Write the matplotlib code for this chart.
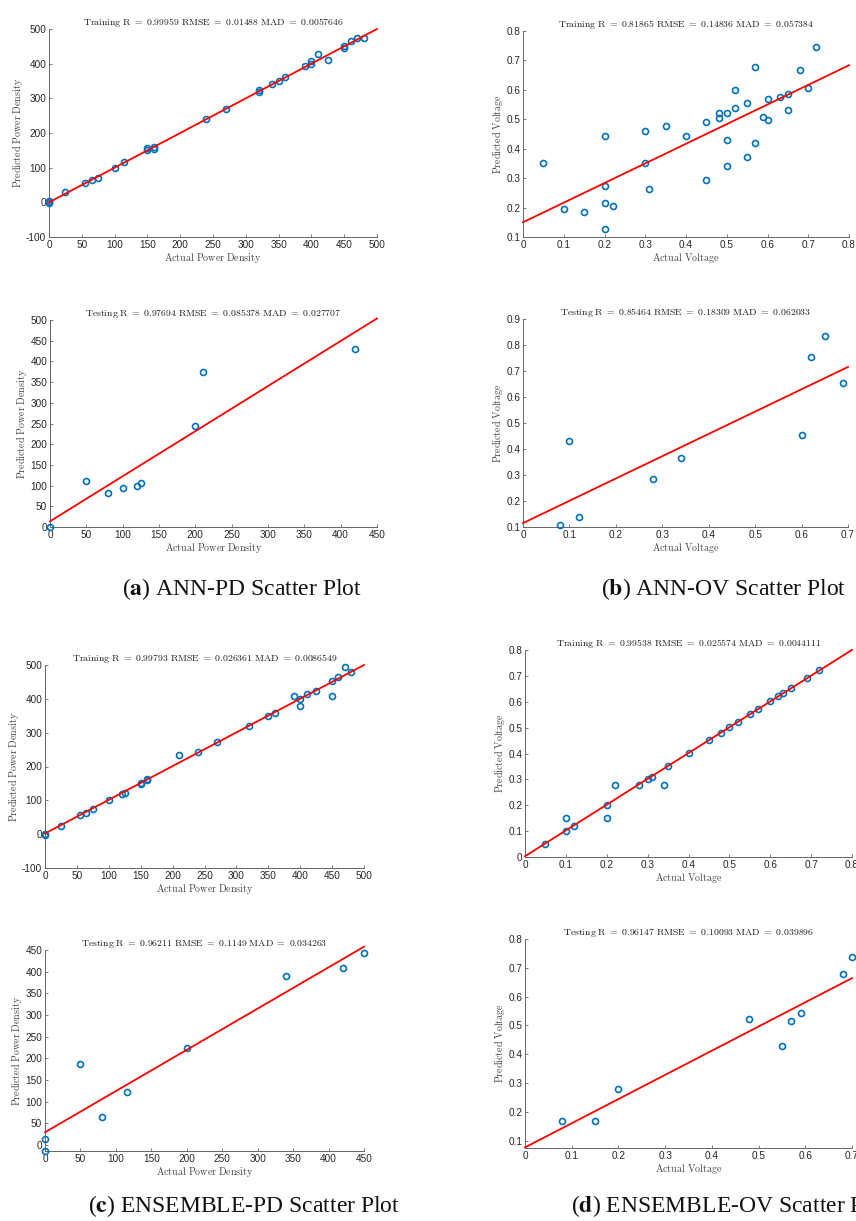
import matplotlib
matplotlib.use('Agg')
import matplotlib.pyplot as plt
from matplotlib.ticker import FuncFormatter
import numpy as np

plt.rcParams['axes.unicode_minus'] = False

# ANN - power density, training
ann_pd_train_x = [0, 0, 0, 25, 55, 65, 75, 100, 115, 150, 150, 160, 160, 240, 270, 320, 320, 340, 350, 360,
                  390, 400, 400, 410, 425, 450, 450, 460, 470, 480]
ann_pd_train_y = [2, -3, 3, 29, 56, 64, 70, 99, 115, 158, 150, 159, 154, 240, 270, 324, 319, 341, 351, 361,
                  392, 407, 399, 429, 411, 450, 445, 466, 473, 473]
ann_pd_train_fit = (0.0, 1.0)
ann_pd_train_title = 'Training R = 0.99959 RMSE = 0.01488 MAD = 0.0057646'

# ANN - power density, testing
ann_pd_test_x = [0, 50, 80, 100, 120, 125, 200, 210, 420]
ann_pd_test_y = [1, 112, 81, 94, 100, 106, 243, 374, 430]
ann_pd_test_fit = (13.7, 1.089)
ann_pd_test_title = 'Testing R = 0.97694 RMSE = 0.085378 MAD = 0.027707'

# ANN - output voltage, training
ann_ov_train_x = [0.05, 0.10, 0.15, 0.20, 0.20, 0.20, 0.20, 0.22, 0.30, 0.30, 0.31, 0.35, 0.40, 0.45, 0.45,
                  0.48, 0.48, 0.50, 0.50, 0.50, 0.52, 0.52, 0.55, 0.55, 0.57, 0.57, 0.59, 0.60, 0.60, 0.63,
                  0.65, 0.65, 0.68, 0.70, 0.72]
ann_ov_train_y = [0.351, 0.195, 0.184, 0.444, 0.274, 0.216, 0.128, 0.207, 0.460, 0.352, 0.262, 0.476, 0.442,
                  0.492, 0.294, 0.520, 0.506, 0.523, 0.431, 0.340, 0.599, 0.539, 0.555, 0.373, 0.677, 0.418,
                  0.509, 0.570, 0.496, 0.575, 0.587, 0.530, 0.666, 0.608, 0.744]
ann_ov_train_fit = (0.150, 0.667)
ann_ov_train_title = 'Training R = 0.81865 RMSE = 0.14836 MAD = 0.057384'

# ANN - output voltage, testing
ann_ov_test_x = [0.08, 0.10, 0.12, 0.28, 0.34, 0.60, 0.62, 0.65, 0.69]
ann_ov_test_y = [0.106, 0.430, 0.140, 0.286, 0.365, 0.453, 0.755, 0.833, 0.653]
ann_ov_test_fit = (0.115, 0.858)
ann_ov_test_title = 'Testing R = 0.85464 RMSE = 0.18309 MAD = 0.062033'

# ENSEMBLE - power density, training
ens_pd_train_x = [0, 0, 25, 55, 65, 75, 100, 120, 125, 150, 150, 160, 160, 210, 240, 270, 320, 350, 360,
                  390, 400, 400, 410, 425, 450, 450, 460, 470, 480]
ens_pd_train_y = [0, -1, 25, 58, 64, 75, 100, 120, 121, 149, 151, 164, 160, 235, 243, 272, 320, 350, 358,
                  409, 400, 379, 414, 424, 454, 409, 464, 493, 478]
ens_pd_train_fit = (2.0, 0.996)
ens_pd_train_title = 'Training R = 0.99793 RMSE = 0.026361 MAD = 0.0086549'

# ENSEMBLE - power density, testing
ens_pd_test_x = [0, 0, 50, 80, 115, 200, 340, 420, 450]
ens_pd_test_y = [13, -14, 187, 64, 122, 223, 391, 409, 444]
ens_pd_test_fit = (29.2, 0.952)
ens_pd_test_title = 'Testing R = 0.96211 RMSE = 0.1149 MAD = 0.034263'

# ENSEMBLE - output voltage, training
ens_ov_train_x = [0.05, 0.10, 0.10, 0.12, 0.20, 0.20, 0.22, 0.28, 0.30, 0.31, 0.34, 0.35, 0.40, 0.45, 0.48,
                  0.50, 0.52, 0.55, 0.57, 0.60, 0.62, 0.63, 0.65, 0.69, 0.72]
ens_ov_train_y = [0.050, 0.150, 0.100, 0.120, 0.200, 0.150, 0.280, 0.280, 0.301, 0.311, 0.280, 0.351, 0.401,
                  0.451, 0.481, 0.502, 0.522, 0.552, 0.572, 0.602, 0.622, 0.632, 0.652, 0.693, 0.723]
ens_ov_train_fit = (0.003, 0.997)
ens_ov_train_title = 'Training R = 0.99538 RMSE = 0.025574 MAD = 0.0044111'

# ENSEMBLE - output voltage, testing
ens_ov_test_x = [0.08, 0.15, 0.20, 0.48, 0.55, 0.57, 0.59, 0.68, 0.70]
ens_ov_test_y = [0.167, 0.167, 0.281, 0.522, 0.428, 0.516, 0.542, 0.679, 0.737]
ens_ov_test_fit = (0.077, 0.839)
ens_ov_test_title = 'Testing R = 0.96147 RMSE = 0.10093 MAD = 0.039896'

captions = [('a', 'ANN-PD Scatter Plot'), ('b', 'ANN-OV Scatter Plot'),
            ('c', 'ENSEMBLE-PD Scatter Plot'), ('d', 'ENSEMBLE-OV Scatter Plot')]

W, H = 856, 1221
fig = plt.figure(figsize=(W / 100, H / 100), dpi=100)

blue = '#0072BD'
axcol = '#666666'
labcol = '#444444'


def panel(box, x, y, fit, title, xlab, ylab, xlim, ylim, xticks, yticks):
    l, r, t, b = box
    ax = fig.add_axes([l / W, 1 - b / H, (r - l) / W, (b - t) / H])
    ax.plot(x, y, 'o', ms=4.3, mfc='none', mec=blue, mew=1.2, clip_on=False, zorder=3)
    xs = np.array(xlim, dtype=float)
    ax.plot(xs, fit[0] + fit[1] * xs, color='red', lw=1.3, clip_on=False, zorder=4)
    ax.set_xlim(xlim)
    ax.set_ylim(ylim)
    ax.set_xticks(xticks)
    ax.set_yticks(yticks)
    fmt = FuncFormatter(lambda v, p: '%g' % round(v, 6))
    ax.xaxis.set_major_formatter(fmt)
    ax.yaxis.set_major_formatter(fmt)
    for s in ['top', 'right']:
        ax.spines[s].set_visible(False)
    for s in ['left', 'bottom']:
        ax.spines[s].set_color(axcol)
        ax.spines[s].set_linewidth(0.7)
    ax.tick_params(direction='in', length=2.5, width=0.6, color=axcol, labelcolor='#262626',
                   labelsize=7.2, pad=2)
    for lab in ax.get_xticklabels() + ax.get_yticklabels():
        lab.set_fontfamily('Liberation Sans')
    tt = r'$\mathrm{' + title.replace(' ', r'\ ') + '}$'
    ax.set_title(tt, fontsize=7.0, math_fontfamily='cm', color='#1a1a1a', pad=3)
    ax.set_xlabel(r'$\mathrm{' + xlab.replace(' ', r'\ ') + '}$', fontsize=7.2,
                  math_fontfamily='cm', color=labcol, labelpad=1)
    ax.set_ylabel(r'$\mathrm{' + ylab.replace(' ', r'\ ') + '}$', fontsize=7.2,
                  math_fontfamily='cm', color=labcol, labelpad=1)
    return ax


pd_lab = ('Actual Power Density', 'Predicted Power Density')
ov_lab = ('Actual Voltage', 'Predicted Voltage')

panel((49, 377, 29, 237), ann_pd_train_x, ann_pd_train_y, ann_pd_train_fit, ann_pd_train_title,
      *pd_lab, (0, 500), (-100, 500), np.arange(0, 501, 50), np.arange(-100, 501, 100))
panel((523, 849, 31, 237), ann_ov_train_x, ann_ov_train_y, ann_ov_train_fit, ann_ov_train_title,
      *ov_lab, (0, 0.8), (0.1, 0.8), np.arange(0, 0.81, 0.1), np.arange(0.1, 0.81, 0.1))
panel((50, 377, 320, 527), ann_pd_test_x, ann_pd_test_y, ann_pd_test_fit, ann_pd_test_title,
      *pd_lab, (0, 450), (0, 500), np.arange(0, 451, 50), np.arange(0, 501, 50))
panel((523, 848, 319, 527), ann_ov_test_x, ann_ov_test_y, ann_ov_test_fit, ann_ov_test_title,
      *ov_lab, (0, 0.7), (0.1, 0.9), np.arange(0, 0.71, 0.1), np.arange(0.1, 0.91, 0.1))
panel((45, 364, 665, 868), ens_pd_train_x, ens_pd_train_y, ens_pd_train_fit, ens_pd_train_title,
      *pd_lab, (0, 500), (-100, 500), np.arange(0, 501, 50), np.arange(-100, 501, 100))
panel((525, 852, 650, 857), ens_ov_train_x, ens_ov_train_y, ens_ov_train_fit, ens_ov_train_title,
      *ov_lab, (0, 0.8), (0, 0.8), np.arange(0, 0.81, 0.1), np.arange(0, 0.81, 0.1))
panel((45, 364, 950, 1151), ens_pd_test_x, ens_pd_test_y, ens_pd_test_fit, ens_pd_test_title,
      *pd_lab, (0, 450), (-14, 450), np.arange(0, 451, 50), np.arange(0, 451, 50))
panel((525, 852, 939, 1148), ens_ov_test_x, ens_ov_test_y, ens_ov_test_fit, ens_ov_test_title,
      *ov_lab, (0, 0.7), (0.075, 0.8), np.arange(0, 0.71, 0.1), np.arange(0.1, 0.81, 0.1))

cap_pos = [(242, 589), (724, 589), (244, 1206), (730, 1206)]
for (letter, txt), (cx, cy) in zip(captions, cap_pos):
    fig.text(cx / W, 1 - cy / H, '($\\mathbf{' + letter + '}$) ' + txt, ha='center', va='center',
             fontsize=17, fontfamily='Liberation Serif', math_fontfamily='stix', color='#111111')

fig.savefig('out.png', dpi=100)
